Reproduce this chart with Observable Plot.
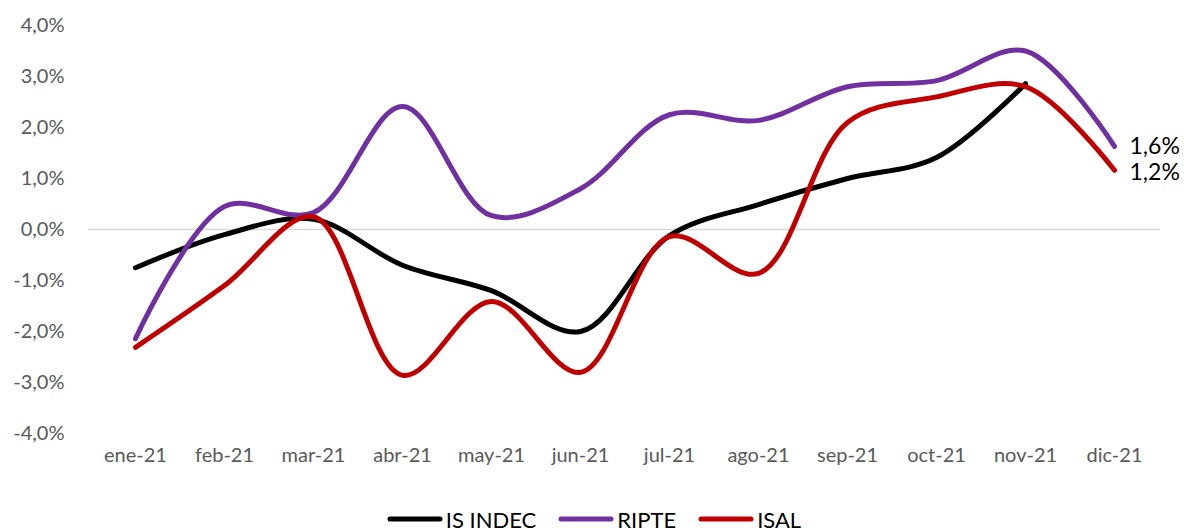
<!DOCTYPE html>
<html>
<head>
<meta charset="utf-8">
<script src="https://cdn.jsdelivr.net/npm/d3@7"></script>
<script src="https://cdn.jsdelivr.net/npm/@observablehq/plot@0.6"></script>
<style>
  html, body { margin: 0; padding: 0; background: #fff; }
  body { width: 1184px; height: 532px; overflow: hidden; font-family: Lato, "Open Sans", sans-serif; }
  #legend { display: flex; justify-content: center; align-items: center; gap: 22px; height: 42px; padding-top: 8px; font-size: 22px; color: #000; margin-left: 4px; }
  .item { display: flex; align-items: center; gap: 3px; }
</style>
</head>
<body>
<div id="chart"></div>
<div id="legend"></div>
<script>
const months = ["ene-21","feb-21","mar-21","abr-21","may-21","jun-21","jul-21","ago-21","sep-21","oct-21","nov-21","dic-21"];
const isIndec = [-0.75, -0.1, 0.2, -0.7, -1.2, -2.0, -0.12, 0.49, 1.0, 1.41, 2.86, null];
const ripte   = [-2.14, 0.45, 0.33, 2.41, 0.27, 0.8, 2.25, 2.14, 2.8, 2.92, 3.5, 1.63];
const isal    = [-2.31, -1.1, 0.25, -2.86, -1.41, -2.8, -0.14, -0.86, 2.1, 2.6, 2.8, 1.16];
const seriesNames = ["IS INDEC", "RIPTE", "ISAL"];
const seriesColors = ["#000000", "#7030a0", "#c00000"];
const yTicks = [-4, -3, -2, -1, 0, 1, 2, 3, 4];
const endLabels = ["1,6%", "1,2%"];

const allSeries = [isIndec, ripte, isal];
const rows = [];
allSeries.forEach((vals, si) => {
  vals.forEach((v, i) => {
    if (v !== null) rows.push({series: seriesNames[si], month: months[i], value: v, idx: i});
  });
});
const fmt = d => d.toFixed(1).replace(".", ",") + "%";

const lastRows = [
  {month: months[11], value: ripte[11], label: endLabels[0], dy: 0},
  {month: months[11], value: isal[11], label: endLabels[1], dy: 2}
];

const chart = Plot.plot({
  width: 1184,
  height: 490,
  marginLeft: 88,
  marginRight: 24,
  marginTop: 25,
  marginBottom: 57,
  style: {fontFamily: "Lato, 'Open Sans', sans-serif", fontSize: "20px", color: "#595959", background: "#fff"},
  x: {type: "point", domain: months, padding: 0.5, label: null, tickSize: 0, tickPadding: 14},
  y: {domain: [-4, 4], ticks: yTicks, tickFormat: fmt, label: null, tickSize: 0, tickPadding: 24},
  color: {domain: seriesNames, range: seriesColors},
  marks: [
    Plot.ruleY([0], {stroke: "#d9d9d9", strokeWidth: 1.5}),
    Plot.line(rows, {x: "month", y: "value", z: "series", stroke: "series", strokeWidth: 5, curve: "catmull-rom", strokeLinecap: "round", strokeLinejoin: "round"}),
    Plot.text(lastRows.slice(0, 1), {x: "month", y: "value", text: "label", dx: 15, dy: 0, textAnchor: "start", fill: "#000", fontSize: 23}),
    Plot.text(lastRows.slice(1), {x: "month", y: "value", text: "label", dx: 15, dy: 2, textAnchor: "start", fill: "#000", fontSize: 23})
  ]
});
document.getElementById("chart").appendChild(chart);

const legend = document.getElementById("legend");
seriesNames.forEach((name, i) => {
  const item = document.createElement("div");
  item.className = "item";
  item.innerHTML = `<svg width="56" height="12"><line x1="3" y1="6" x2="53" y2="6" stroke="${seriesColors[i]}" stroke-width="5" stroke-linecap="round"/></svg><span>${name}</span>`;
  legend.appendChild(item);
});
</script>
</body>
</html>
